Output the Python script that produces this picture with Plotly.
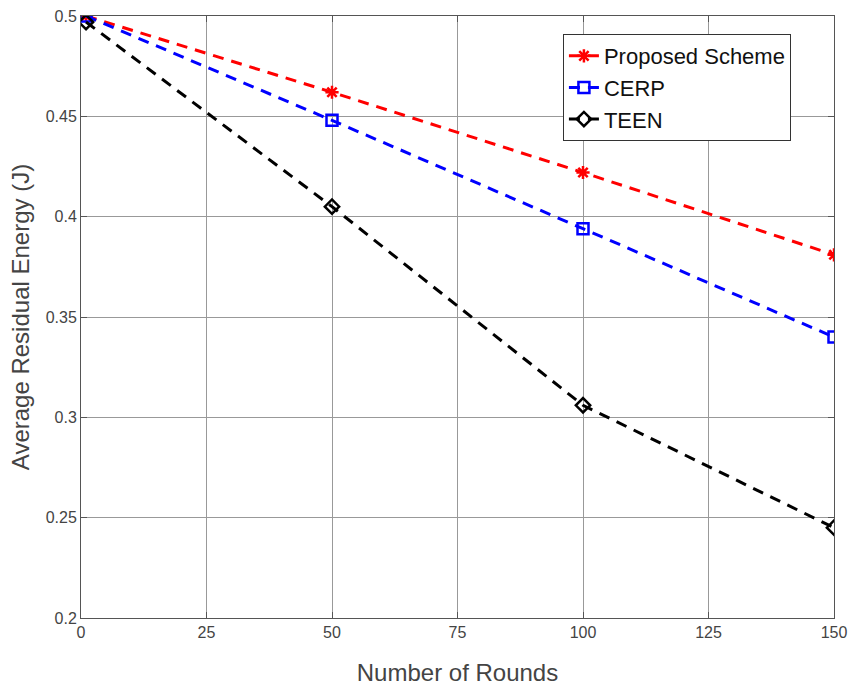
import plotly.graph_objects as go

rounds = [1, 50, 100, 150]
proposed = [0.500, 0.462, 0.422, 0.381]
cerp = [0.500, 0.448, 0.394, 0.340]
teen = [0.497, 0.405, 0.306, 0.245]

x_ticks = [0, 25, 50, 75, 100, 125, 150]
y_ticks = [0.2, 0.25, 0.3, 0.35, 0.4, 0.45, 0.5]

FONT = "Liberation Sans, Arial"

fig = go.Figure()
series = [
    ("Proposed Scheme", proposed, "#ff0000", "asterisk-open"),
    ("CERP", cerp, "#0000ff", "square-open"),
    ("TEEN", teen, "#000000", "diamond-open"),
]
for name, vals, col, sym in series:
    fig.add_trace(go.Scatter(
        x=rounds, y=vals, name=name, mode="lines+markers",
        line=dict(color=col, width=3, dash="11px,8px"),
        marker=dict(symbol=sym, size=11, color=col, line=dict(width=2.5, color=col)),
    ))

axis_common = dict(
    showline=True, mirror="ticks", linecolor="#555555", linewidth=1,
    showgrid=True, gridcolor="#999999", gridwidth=1,
    ticks="inside", ticklen=6, tickcolor="#555555",
    tickfont=dict(family=FONT, size=16, color="#444444"),
    zeroline=False,
)
fig.update_xaxes(range=[0, 150], tickvals=x_ticks,
                 title=dict(text="Number of Rounds", font=dict(family=FONT, size=24, color="#444444"), standoff=23),
                 **axis_common)
fig.update_yaxes(range=[0.2, 0.5], tickvals=y_ticks,
                 title=dict(text="Average Residual Energy (J)", font=dict(family=FONT, size=24, color="#444444"), standoff=9),
                 **axis_common)

fig.update_layout(
    width=848, height=687,
    margin=dict(l=81, r=14, t=16, b=69, autoexpand=False),
    plot_bgcolor="white", paper_bgcolor="white",
    legend=dict(x=0.64, y=0.970, xanchor="left", yanchor="top",
                bgcolor="white", bordercolor="#333333", borderwidth=1,
                font=dict(family=FONT, size=22, color="#111111"),
                tracegroupgap=0, itemwidth=30),
    showlegend=True,
)

fig.write_html("out.html")
